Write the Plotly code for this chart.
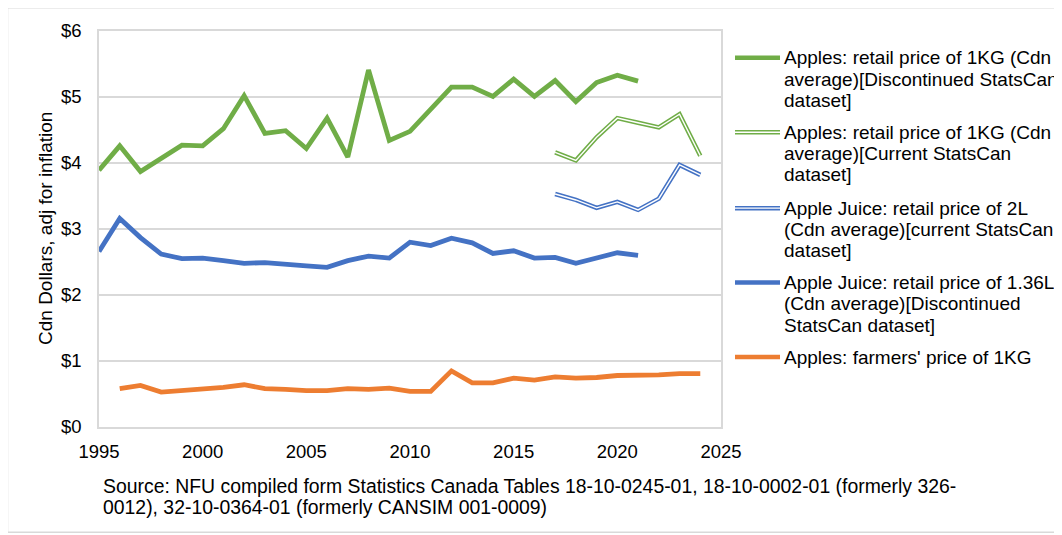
import plotly.graph_objects as go

# ---------------- data ----------------
years_green_disc = list(range(1995, 2022))
apples_retail_disc = [3.89, 4.26, 3.87, 4.07, 4.27, 4.26, 4.52, 5.02, 4.45, 4.49,
                      4.22, 4.68, 4.09, 5.41, 4.34, 4.48, 4.81, 5.15, 5.15, 5.01,
                      5.27, 5.01, 5.25, 4.93, 5.22, 5.33, 5.24]

years_current = list(range(2017, 2025))
apples_retail_curr = [4.16, 4.04, 4.39, 4.68, 4.61, 4.54, 4.74, 4.11]
juice_2l_curr = [3.53, 3.44, 3.32, 3.41, 3.29, 3.46, 3.97, 3.82]

years_juice_disc = list(range(1995, 2022))
juice_136_disc = [2.66, 3.16, 2.87, 2.62, 2.55, 2.56, 2.52, 2.48, 2.49, 2.46,
                  2.44, 2.42, 2.52, 2.59, 2.56, 2.80, 2.75, 2.86, 2.79, 2.63,
                  2.67, 2.56, 2.57, 2.48, 2.56, 2.64, 2.60]

years_farm = list(range(1996, 2025))
apples_farm = [0.58, 0.63, 0.53, 0.55, 0.57, 0.60, 0.64, 0.58, 0.57, 0.55,
               0.55, 0.58, 0.57, 0.59, 0.54, 0.54, 0.85, 0.67, 0.67, 0.74,
               0.71, 0.76, 0.74, 0.75, 0.78, 0.78, 0.79, 0.81, 0.81]

x_ticks = [1995, 2000, 2005, 2010, 2015, 2020, 2025]
y_ticks = [0, 1, 2, 3, 4, 5, 6]
y_tick_labels = ["$0", "$1", "$2", "$3", "$4", "$5", "$6"]

legend_entries = [
    ["Apples: retail price of 1KG (Cdn", "average)[Discontinued StatsCan", "dataset]"],
    ["Apples: retail price of 1KG (Cdn", "average)[Current StatsCan", "dataset]"],
    ["Apple Juice: retail price of 2L", "(Cdn average)[current StatsCan", "dataset]"],
    ["Apple Juice: retail price of 1.36L", "(Cdn average)[Discontinued", "StatsCan dataset]"],
    ["Apples: farmers' price of 1KG"],
]
source_lines = [
    "Source: NFU compiled form Statistics Canada Tables 18-10-0245-01, 18-10-0002-01 (formerly 326-",
    "0012), 32-10-0364-01 (formerly CANSIM 001-0009)",
]

GREEN = "#70AD47"
BLUE = "#4472C4"
ORANGE = "#ED7D31"
FONT = "Liberation Sans, Arial, sans-serif"

# ---------------- geometry (page pixels; page body has an 8px margin) ----------------
OFF = 8
W, H = 1062 - OFF, 535 - OFF
L, R, T, B = 99, 721, 28, 427          # plot area in page pixels
pw, ph = R - L, B - T


def px(x):
    return (x - L) / pw


def py(y):
    return (B - y) / ph


fig = go.Figure()

# solid lines
fig.add_trace(go.Scatter(x=years_green_disc, y=apples_retail_disc, mode="lines",
                         line=dict(color=GREEN, width=4.8), showlegend=False))
fig.add_trace(go.Scatter(x=years_juice_disc, y=juice_136_disc, mode="lines",
                         line=dict(color=BLUE, width=4.8), showlegend=False))
fig.add_trace(go.Scatter(x=years_farm, y=apples_farm, mode="lines",
                         line=dict(color=ORANGE, width=4.8), showlegend=False))

# double lines (outer colour + inner white)
for ys, col in [(apples_retail_curr, GREEN), (juice_2l_curr, BLUE)]:
    fig.add_trace(go.Scatter(x=years_current, y=ys, mode="lines",
                             line=dict(color=col, width=4.5), showlegend=False))
    fig.add_trace(go.Scatter(x=years_current, y=ys, mode="lines",
                             line=dict(color="white", width=1.4), showlegend=False))

shapes = []
annotations = []

# outer border
shapes.append(dict(type="rect", xref="paper", yref="paper",
                   x0=px(7.5), x1=px(1075), y0=py(533), y1=py(4.5),
                   line=dict(color="#d9d9d9", width=1.5), layer="below"))

# legend
legend_styles = [(GREEN, False), (GREEN, True), (BLUE, True), (BLUE, False), (ORANGE, False)]
first_line_y = [55, 130, 206.5, 281.5, 356.5]
line_gap = 21.5
for (col, dbl), y0, lines in zip(legend_styles, first_line_y, legend_entries):
    shapes.append(dict(type="line", xref="paper", yref="paper",
                       x0=px(735), x1=px(780), y0=py(y0), y1=py(y0),
                       line=dict(color=col, width=4.5)))
    if dbl:
        shapes.append(dict(type="line", xref="paper", yref="paper",
                           x0=px(735), x1=px(780), y0=py(y0), y1=py(y0),
                           line=dict(color="white", width=1.4)))
    for i, t in enumerate(lines):
        annotations.append(dict(text=t, xref="paper", yref="paper",
                                x=px(782), y=py(y0 + i * line_gap),
                                xanchor="left", yanchor="middle", showarrow=False,
                                font=dict(family=FONT, size=19, color="#000000")))

# source
for i, t in enumerate(source_lines):
    annotations.append(dict(text=t, xref="paper", yref="paper",
                            x=px(101), y=py(486 + i * 21.5),
                            xanchor="left", yanchor="middle", showarrow=False,
                            font=dict(family=FONT, size=19.4, color="#000000")))

fig.update_layout(
    width=W, height=H,
    margin=dict(l=L - OFF, r=W - (R - OFF), t=T - OFF, b=H - (B - OFF), pad=0),
    paper_bgcolor="white", plot_bgcolor="white",
    showlegend=False,
    font=dict(family=FONT, size=18.5, color="#000000"),
    shapes=shapes,
    annotations=annotations,
    xaxis=dict(range=[1995, 2025], tickvals=x_ticks, ticktext=[str(v) for v in x_ticks],
               showgrid=False, zeroline=False, showline=True, linecolor="#d9d9d9",
               linewidth=1.5, mirror=True, ticks="", ticklabelstandoff=7,
               tickfont=dict(family=FONT, size=18.5, color="#000000")),
    yaxis=dict(range=[0, 6], tickvals=y_ticks, ticktext=y_tick_labels,
               showgrid=True, gridcolor="#d9d9d9", gridwidth=1.5, zeroline=False,
               showline=True, linecolor="#d9d9d9", linewidth=1.5, mirror=True,
               ticks="", ticklabelstandoff=12,
               tickfont=dict(family=FONT, size=18.5, color="#000000")),
)
# y-axis title as rotated annotation for exact placement
fig.add_annotation(text="Cdn Dollars, adj for inflation", xref="paper", yref="paper",
                   x=px(45), y=py(227.5), xanchor="center", yanchor="middle",
                   textangle=-90, showarrow=False,
                   font=dict(family=FONT, size=19, color="#000000"))

fig.write_html("out.html")
